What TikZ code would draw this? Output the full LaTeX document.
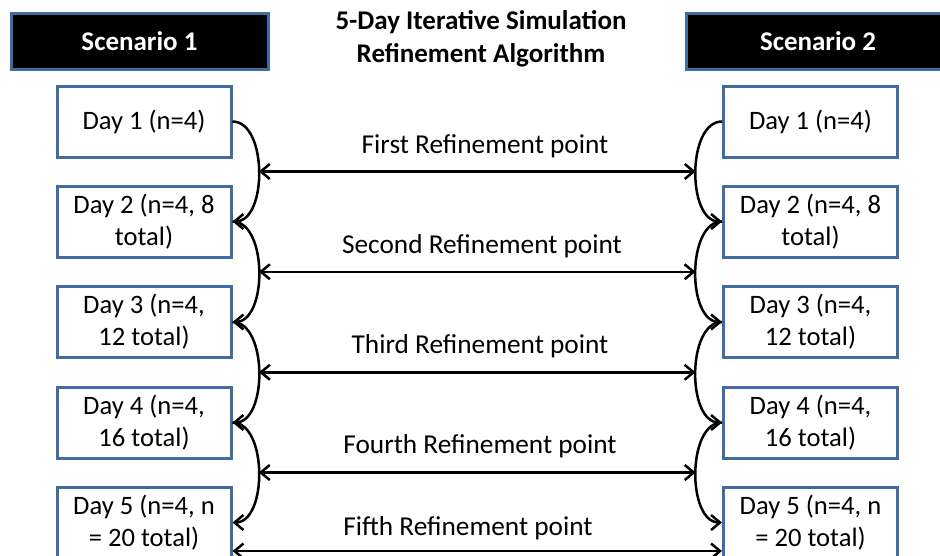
\documentclass[tikz,border=0pt]{standalone}
\usepackage{fontspec}
\setmainfont{Carlito}
\usetikzlibrary{arrows.meta}
\definecolor{boxblue}{RGB}{65,108,160}
\tikzset{
  daybox/.style={draw=boxblue, line width=3pt, fill=white, minimum width=174pt, minimum height=71pt, align=center, inner sep=2pt, font=\fontsize{26.6}{32}\selectfont},
  scenbox/.style={draw=boxblue, line width=3pt, fill=black, text=white, minimum height=56pt, align=center, font=\fontsize{27}{30}\selectfont\bfseries},
  conn/.style={line width=2.5pt, black},
  barb/.tip={Straight Barb[length=9pt,width=15pt,line width=2.5pt]},
  tip/.style={-{barb}},
  dtip/.style={{barb}-{barb}},
  reflabel/.style={font=\fontsize{27.3}{30}\selectfont},
}
\begin{document}
\begin{tikzpicture}[x=1pt,y=-1pt]
\useasboundingbox (0,0) rectangle (940,555);
% headers
\node[scenbox, minimum width=257pt] (s1) at (139.5,41) {Scenario 1};
\node[scenbox, minimum width=264pt] (s2) at (818,41) {Scenario 2};
\node[font=\fontsize{27}{33}\selectfont\bfseries, align=center] (title) at (481,38.5) {5-Day Iterative Simulation\\Refinement Algorithm};
% left boxes
\node[daybox] (l1) at (144,121.5) {Day 1 (n=4)};
\node[daybox] (l2) at (144,221.5) {Day 2 (n=4, 8\\total)};
\node[daybox] (l3) at (144,322) {Day 3 (n=4,\\12 total)};
\node[daybox] (l4) at (144,422.5) {Day 4 (n=4,\\16 total)};
\node[daybox] (l5) at (144,522.5) {Day 5 (n=4, n\\= 20 total)};
% right boxes
\node[daybox] (r1) at (810.5,121.5) {Day 1 (n=4)};
\node[daybox] (r2) at (810.5,221.5) {Day 2 (n=4, 8\\total)};
\node[daybox] (r3) at (810.5,322) {Day 3 (n=4,\\12 total)};
\node[daybox] (r4) at (810.5,422.5) {Day 4 (n=4,\\16 total)};
\node[daybox] (r5) at (810.5,522.5) {Day 5 (n=4, n\\= 20 total)};
% curved connectors
\foreach \a/\b/\k in {1/2/1,2/3/2,3/4/3,4/5/4}{
  \draw[conn,tip] (l\a.east) to[out=0,in=0,looseness=0.9] coordinate[pos=0.5] (cl\k) (l\b.east);
  \draw[conn,tip] (r\a.west) to[out=180,in=180,looseness=0.9] coordinate[pos=0.5] (cr\k) (r\b.west);
  \draw[conn,dtip] (cl\k) -- (cr\k);
}
\draw[conn,dtip] ([yshift=-28.5pt]l5.east) -- ([yshift=-28.5pt]r5.west);
% labels
\node[reflabel] (t1) at (485,146) {First Refinement point};
\node[reflabel] (t2) at (482,246) {Second Refinement point};
\node[reflabel] (t3) at (480,346) {Third Refinement point};
\node[reflabel] (t4) at (480,446) {Fourth Refinement point};
\node[reflabel] (t5) at (468,528) {Fifth Refinement point};
\end{tikzpicture}
\end{document}
